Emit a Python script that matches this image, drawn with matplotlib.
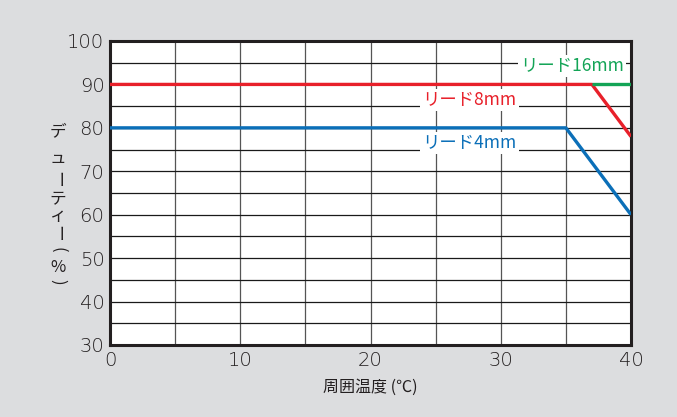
import numpy as np
import matplotlib.pyplot as plt

plt.rcParams['font.family'] = ['Noto Sans CJK JP', 'DejaVu Sans']

# ------------------------------------------------------------------
# Dati (周囲温度 vs デューティー)
# ------------------------------------------------------------------
lead4_x = [0, 35, 40]
lead4_y = [80, 80, 60]
lead8_x = [0, 37, 40]
lead8_y = [90, 90, 78]
lead16_x = [37, 40]
lead16_y = [90, 90]

labels = ["リード16mm", "リード8mm", "リード4mm"]
label_pos = [(35.5, 94.3), (27.6, 86.4), (27.6, 76.5)]
colors = ["#13a456", "#e8202a", "#0b6fb8"]

bg = "#dcdddf"
ink = "#231f20"

fig = plt.figure(figsize=(6.77, 4.17), dpi=100, facecolor=bg)
ax = fig.add_axes([110 / 677, 1 - 345 / 417, 521 / 677, 304 / 417])
ax.set_facecolor("white")

ax.set_xlim(0, 40)
ax.set_ylim(30, 100)
ax.set_xticks(np.arange(0, 41, 10))
ax.set_yticks(np.arange(30, 101, 10))
ax.set_xticks(np.arange(0, 41, 5), minor=True)
ax.set_yticks(np.arange(30, 101, 5), minor=True)
ax.grid(which="both", axis="y", color="#1a1a1a", linewidth=0.9)
ax.grid(which="both", axis="x", color="#555555", linewidth=0.9)
ax.tick_params(which="both", length=0, colors=ink, pad=4)
for lab in ax.get_xticklabels() + ax.get_yticklabels():
    lab.set_family("DejaVu Sans")
    lab.set_fontsize(14)
    lab.set_fontweight("light")

for s in ax.spines.values():
    s.set_linewidth(2.2)
    s.set_color(ink)

ax.plot(lead4_x, lead4_y, color=colors[2], linewidth=2.4, solid_capstyle="butt", zorder=3)
ax.plot(lead8_x, lead8_y, color=colors[1], linewidth=2.4, solid_capstyle="butt", zorder=3)
ax.plot(lead16_x, lead16_y, color=colors[0], linewidth=2.4, solid_capstyle="butt", zorder=3)

for txt, (lx, ly), c in zip(labels, label_pos, colors):
    ax.text(lx, ly, txt, color=c, fontsize=12.5, ha="center", va="center", zorder=4,
            bbox=dict(facecolor="white", edgecolor="none", pad=1.5))

ax.set_xlabel("周囲温度 (℃)", fontsize=11.5, color=ink, labelpad=7)

# etichetta verticale (scrittura verticale giapponese), un carattere alla volta
ylab_chars = ["デ", "ュ", "ー", "テ", "ィ", "ー", "(", "%", ")"]
ylab_rot = [0, 0, -90, 0, 0, -90, -90, 0, -90]
ylab_y = [132, 158, 179, 200, 216, 233, 250, 267, 282]
for ch, rot, py in zip(ylab_chars, ylab_rot, ylab_y):
    fig.text(58 / 677, 1 - py / 417, ch, fontsize=12, color=ink,
             ha="center", va="center", rotation=rot)

fig.savefig("out.png", dpi=100, facecolor=bg)
